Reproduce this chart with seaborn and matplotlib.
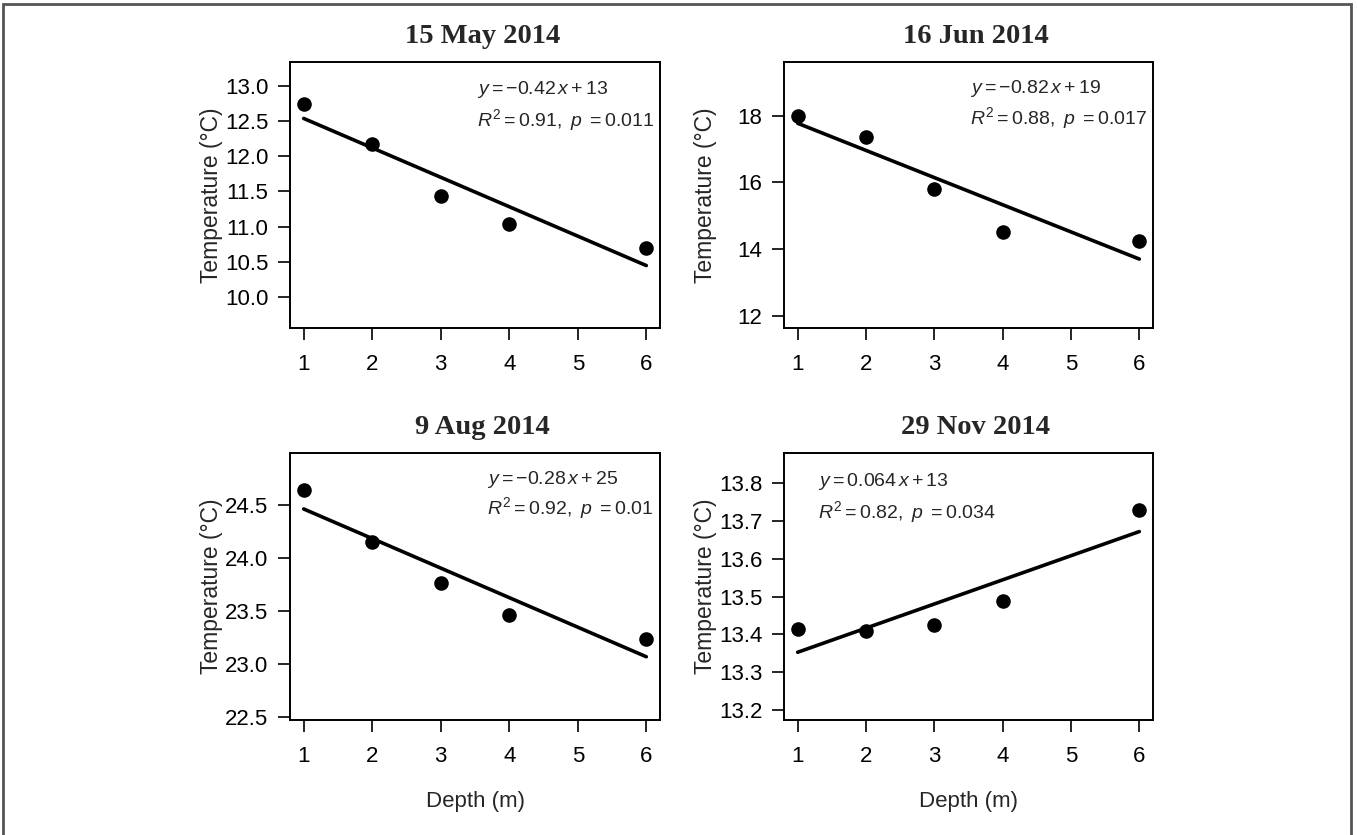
import numpy as np
import pandas as pd
import matplotlib
matplotlib.use("Agg")
import matplotlib.pyplot as plt
import matplotlib.patches as patches
import seaborn as sns

sns.set_style("ticks")
plt.rcParams['font.family'] = ['Liberation Sans', 'DejaVu Sans']
plt.rcParams['mathtext.fontset'] = 'custom'
plt.rcParams['mathtext.rm'] = 'Liberation Sans'
plt.rcParams['mathtext.it'] = 'Liberation Sans:italic'

# data
depth = [1, 2, 3, 4, 6]
temp_may = [12.75, 12.18, 11.43, 11.04, 10.69]
temp_jun = [18.00, 17.35, 15.80, 14.51, 14.26]
temp_aug = [24.64, 24.15, 23.76, 23.46, 23.23]
temp_nov = [13.414, 13.409, 13.424, 13.489, 13.729]

titles = ['15 May 2014', '16 Jun 2014', '9 Aug 2014', '29 Nov 2014']
eq_lines = [r'$y = -0.42\,x + 13$', r'$y = -0.82\,x + 19$',
            r'$y = -0.28\,x + 25$', r'$y = 0.064\,x + 13$']
stat_lines = [r'$R^2 = 0.91,\ p\ = 0.011$', r'$R^2 = 0.88,\ p\ = 0.017$',
              r'$R^2 = 0.92,\ p\ = 0.01$', r'$R^2 = 0.82,\ p\ = 0.034$']
yticks = [[10.0, 10.5, 11.0, 11.5, 12.0, 12.5, 13.0],
          [12, 14, 16, 18],
          [22.5, 23.0, 23.5, 24.0, 24.5],
          [13.2, 13.3, 13.4, 13.5, 13.6, 13.7, 13.8]]
ytick_fmt = ['{:.1f}', '{:.0f}', '{:.1f}', '{:.1f}']
ylims = [(9.56, 13.34), (11.64, 19.61), (22.47, 24.99), (13.173, 13.88)]

W, H = 1357, 835
fig = plt.figure(figsize=(W / 100, H / 100), dpi=100)

# axes boxes in pixels: left, top, right, bottom
boxes = [(290, 62, 660, 328), (784, 62, 1153, 328),
         (290, 453, 660, 720), (784, 453, 1153, 720)]
text_pos = [(0.505, 0.898, 0.782), (0.504, 0.902, 0.789),
            (0.532, 0.899, 0.794), (0.092, 0.895, 0.779)]
temps = [temp_may, temp_jun, temp_aug, temp_nov]

for i in range(4):
    l, t, r, b = boxes[i]
    ax = fig.add_axes([l / W, 1 - b / H, (r - l) / W, (b - t) / H])
    df = pd.DataFrame({'Depth': depth, 'Temp': temps[i]})
    sns.regplot(data=df, x='Depth', y='Temp', ax=ax, ci=None,
                scatter_kws={'s': 110, 'color': 'black', 'alpha': 1,
                             'linewidths': 0, 'zorder': 3},
                line_kws={'color': 'black', 'lw': 2.6})
    ax.set_xlim(0.8, 6.2)
    ax.set_ylim(*ylims[i])
    ax.set_xticks([1, 2, 3, 4, 5, 6])
    ax.set_yticks(yticks[i])
    ax.set_yticklabels([ytick_fmt[i].format(v) for v in yticks[i]])
    for s in ax.spines.values():
        s.set_visible(True)
        s.set_color('black')
        s.set_linewidth(1.4)
    ax.tick_params(axis='x', length=8.5, width=1.2, pad=10, labelsize=16, colors='black')
    ax.tick_params(axis='y', length=8.5, width=1.2, pad=7, labelsize=16, colors='black')
    ax.set_ylabel('Temperature (°C)', fontsize=16.5)
    ax.yaxis.set_label_coords(-67 / (r - l), 0.5)
    if i >= 2:
        ax.set_xlabel('Depth (m)', fontsize=16)
        ax.xaxis.set_label_coords(0.5, -71 / (b - t))
    else:
        ax.set_xlabel('')
    ax.set_title(titles[i], fontsize=20.5, fontweight='bold',
                 family=['Liberation Serif'], pad=14, x=0.52)
    tx, ty1, ty2 = text_pos[i]
    ax.text(tx, ty1, eq_lines[i], transform=ax.transAxes, fontsize=14, va='center', ha='left')
    ax.text(tx, ty2, stat_lines[i], transform=ax.transAxes, fontsize=14, va='center', ha='left')

# thin grey frame around the figure
fig.patches.append(patches.Rectangle((3 / W, -0.01), (1351 - 3) / W, 1.01 - 4 / H,
                                     transform=fig.transFigure, fill=False,
                                     edgecolor='#555555', lw=2))

fig.savefig('out.png', dpi=100)
